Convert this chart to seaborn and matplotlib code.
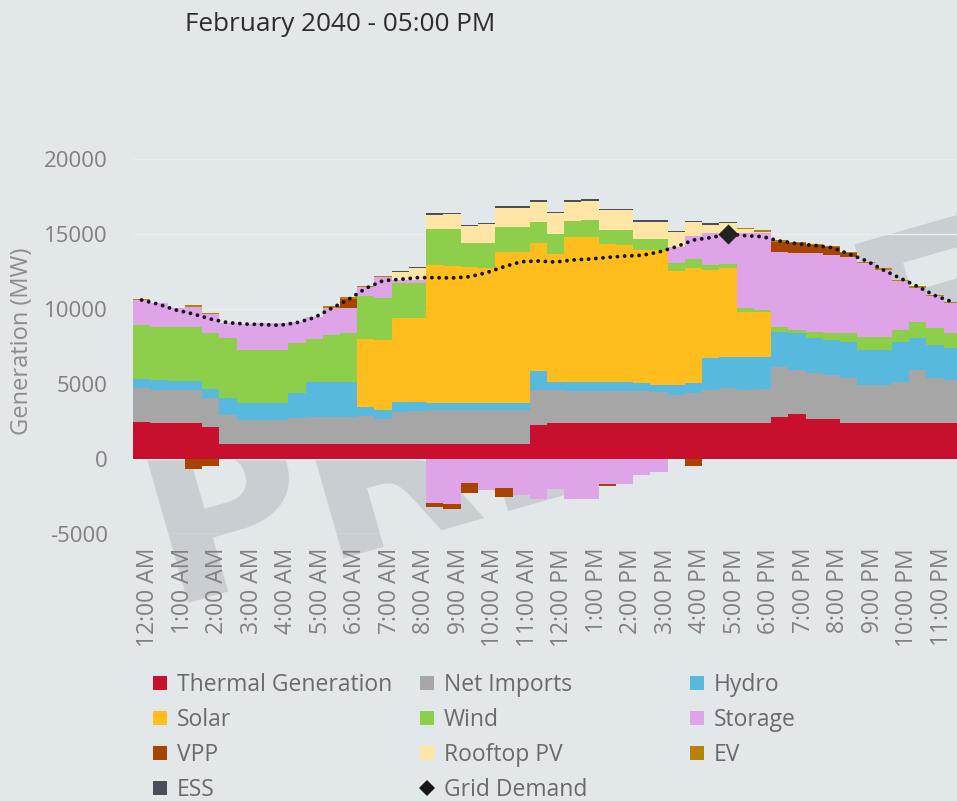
import numpy as np
import pandas as pd
import matplotlib
matplotlib.use("Agg")
import matplotlib.pyplot as plt
import matplotlib.transforms as mtransforms
from matplotlib.lines import Line2D
import seaborn as sns

# Half-hourly generation mix (MW) for a February 2040 day
hours = np.arange(0, 24, 0.5)
hour_labels = ["12:00 AM", "1:00 AM", "2:00 AM", "3:00 AM", "4:00 AM", "5:00 AM",
               "6:00 AM", "7:00 AM", "8:00 AM", "9:00 AM", "10:00 AM", "11:00 AM",
               "12:00 PM", "1:00 PM", "2:00 PM", "3:00 PM", "4:00 PM", "5:00 PM",
               "6:00 PM", "7:00 PM", "8:00 PM", "9:00 PM", "10:00 PM", "11:00 PM"]

thermal = [2490, 2380, 2380, 2380, 2160, 1000, 1000, 1000, 1000, 1000, 1000, 1000,
           1000, 1000, 1000, 1000, 1000, 1000, 1000, 1000, 1000, 1000, 1000, 2270,
           2380, 2380, 2380, 2380, 2380, 2380, 2380, 2380, 2380, 2380, 2380, 2380,
           2380, 2820, 3000, 2640, 2640, 2380, 2380, 2380, 2380, 2380, 2380, 2380]
net_imports = [2220, 2220, 2220, 2220, 1890, 1930, 1600, 1600, 1600, 1710, 1820, 1820,
               1820, 1870, 1640, 2160, 2220, 2270, 2270, 2270, 2270, 2270, 2270, 2330,
               2220, 2180, 2180, 2180, 2180, 2180, 2110, 1890, 2000, 2220, 2330, 2220,
               2270, 3330, 2930, 3070, 2960, 3000, 2560, 2560, 2780, 3560, 3000, 2890]
hydro = [600, 670, 620, 620, 600, 1110, 1160, 1160, 1160, 1670, 2330, 2330,
         2330, 620, 620, 670, 600, 490, 440, 440, 440, 440, 440, 1270,
         560, 600, 600, 600, 600, 530, 440, 670, 670, 2110, 2110, 2180,
         2130, 2330, 2440, 2330, 2330, 2440, 2330, 2330, 2670, 2110, 2220, 2110]
solar = [0, 0, 0, 0, 0, 0, 0, 0, 0, 0, 0, 0,
         0, 4490, 4670, 5560, 5560, 9180, 9150, 9070, 9000, 10110, 10110, 8510,
         8490, 9620, 9620, 9180, 9110, 8840, 9000, 7620, 7710, 5890, 5890, 3040,
         3040, 0, 0, 0, 0, 0, 0, 0, 0, 0, 0, 0]
wind = [3620, 3560, 3560, 3600, 3780, 4000, 3510, 3510, 3510, 3330, 2840, 3110,
        3220, 2890, 2780, 2330, 2330, 2380, 2440, 1640, 1710, 1670, 1670, 1440,
        1360, 1110, 1160, 930, 1000, 710, 710, 490, 560, 330, 290, 220,
        110, 290, 220, 440, 440, 560, 890, 890, 780, 1110, 1110, 1000]
storage = [1670, 1560, 1270, 1330, 1220, 1040, 1730, 1780, 1790, 1440, 1490, 1820,
           1710, 580, 1400, 220, 220, -2960, -3000, -1620, -2070, -1960, -2400, -2690,
           -2020, -2690, -2690, -1690, -1690, -1070, -890, 1110, 1560, 2110, 1980, 5000,
           5110, 5040, 5160, 5220, 5220, 5110, 4890, 4440, 3270, 2270, 2160, 2000]
vpp = [0, 0, 0, -700, -450, 0, 0, 0, 0, 0, 0, 0,
       560, 0, 0, 0, 0, -220, -360, -670, 0, -600, 0, 0,
       0, 0, 0, -100, 0, 0, 0, 0, -450, 0, 0, 0,
       0, 670, 620, 560, 510, 270, 0, 0, 0, 0, 0, 0]
rooftop_pv = [0, 0, 0, 0, 0, 0, 0, 0, 0, 0, 0, 0,
              0, 0, 0, 510, 780, 960, 1020, 1110, 1220, 1270, 1270, 1330,
              1380, 1270, 1290, 1330, 1330, 1180, 1180, 960, 890, 580, 730, 270,
              110, 0, 0, 0, 0, 0, 0, 0, 0, 0, 0, 0]
ev = [90, 0, 0, 110, 100, 0, 0, 0, 0, 0, 0, 100,
      130, 80, 90, 0, 0, 0, 0, 0, 0, 0, 0, 0,
      0, 0, 0, 0, 0, 0, 0, 0, 0, 0, 0, 100,
      100, 110, 110, 70, 70, 70, 100, 100, 70, 70, 70, 100]
ess = [0, 0, 0, 0, 0, 0, 0, 0, 0, 0, 0, 0,
       0, 0, 0, 70, 100, 90, 90, 90, 90, 90, 90, 90,
       90, 90, 90, 90, 90, 90, 90, 90, 90, 90, 90, 0,
       0, 0, 0, 0, 0, 0, 0, 0, 0, 0, 0, 0]
grid_demand = [10600, 10310, 9930, 9670, 9330, 9090, 9000, 8960, 8910, 9090, 9420, 10040,
               10640, 11380, 11890, 11980, 12090, 12090, 12070, 12150, 12420, 12820, 13150, 13200,
               13130, 13270, 13330, 13440, 13530, 13580, 13800, 14150, 14600, 14760, 15000, 14890,
               14820, 14530, 14350, 14240, 14090, 13670, 13220, 12600, 12040, 11490, 10890, 10470]

series_names = ["Thermal Generation", "Net Imports", "Hydro", "Solar", "Wind",
                "Storage", "VPP", "Rooftop PV", "EV", "ESS"]
series_values = [thermal, net_imports, hydro, solar, wind, storage, vpp, rooftop_pv, ev, ess]
series_colors = ["#C8102E", "#A6A6A6", "#56B9DD", "#FFBE1E", "#8DCF4A",
                 "#DFA4E7", "#A84300", "#FFE5A6", "#B88200", "#4A4F5C"]

selected_time = 17.0
title = "February 2040 - 05:00 PM"

BG = "#E2E7EA"
TEXT_GREY = "#808080"

sns.set_theme(style="white", rc={"figure.facecolor": BG, "axes.facecolor": "none",
                                 "savefig.facecolor": BG})
plt.rcParams["font.family"] = ["Open Sans", "DejaVu Sans"]

W, H = 957, 801
fig = plt.figure(figsize=(W / 100, H / 100), dpi=100)
ax = fig.add_axes([133 / W, 1 - 534 / H, 828 / W, 375 / H])

# Watermark sits behind everything
fig.text(168 / W, 1 - 603 / H, "PREVIEW", rotation=16, rotation_mode="anchor",
         ha="left", va="baseline", fontsize=160, fontweight="bold",
         color="#C9CED3", family="DejaVu Sans", zorder=-5)

# Stacked step areas: positives grow upward, negatives downward
edges = np.append(hours - 0.25, hours[-1] + 0.25)
pos_base = np.zeros(len(hours))
neg_base = np.zeros(len(hours))
for name, vals, color in zip(series_names, series_values, series_colors):
    v = np.asarray(vals, dtype=float)
    p = np.clip(v, 0, None)
    n = np.clip(v, None, 0)
    if p.any():
        ax.stairs(pos_base + p, edges, baseline=pos_base.copy(), fill=True,
                  color=color, lw=0, antialiased=False, zorder=2)
    if n.any():
        ax.stairs(neg_base + n, edges, baseline=neg_base.copy(), fill=True,
                  color=color, lw=0, antialiased=False, zorder=2)
    pos_base += p
    neg_base += n

demand_df = pd.DataFrame({"hour": hours, "demand": grid_demand})
sns.lineplot(data=demand_df, x="hour", y="demand", ax=ax, color="#15151f",
             lw=2.8, linestyle=(0, (0.01, 1.85)), dash_capstyle="round",
             legend=False, zorder=4)
sel = demand_df[demand_df["hour"] == selected_time]
sns.scatterplot(data=sel, x="hour", y="demand", ax=ax, marker="D", s=105,
                color="#222222", linewidth=0, legend=False, zorder=5)

ax.set_xlim(-0.25, 23.75)
ax.set_ylim(-5000, 20000)
ax.set_xlabel("")
ax.set_ylabel("")
for s in ax.spines.values():
    s.set_visible(False)
ax.set_axisbelow(True)
ax.yaxis.grid(True, color="#EAEDEF", lw=1.0)
ax.xaxis.grid(False)

yt = [-5000, 0, 5000, 10000, 15000, 20000]
ax.set_yticks(yt)
ax.set_yticklabels([str(t) for t in yt])
ax.tick_params(axis="y", length=0, pad=18, labelsize=16, labelcolor=TEXT_GREY)
ax.set_xticks(np.arange(24))
ax.set_xticklabels(hour_labels, rotation=90)
ax.tick_params(axis="x", length=0, pad=10, labelsize=16.5, labelcolor=TEXT_GREY)
shift = mtransforms.ScaledTranslation(6.5 / 100, 0, fig.dpi_scale_trans)
for lbl in ax.get_xticklabels():
    lbl.set_transform(lbl.get_transform() + shift)

fig.text(185 / W, 1 - 31 / H, title, fontsize=18.8, color="#2d2d2d",
         ha="left", va="baseline")
fig.text(22 / W, 1 - 341 / H, "Generation (MW)", rotation=90, ha="center",
         va="center", fontsize=17, color="#8c8c8c")

# Legend laid out in three fixed-width columns, row by row
legend_items = [(n, c, "s") for n, c in zip(series_names, series_colors)]
legend_items.append(("Grid Demand", "#151515", "D"))
col_x = [160, 427, 697]
row_y = [683, 718, 753, 788]
for i, (name, color, mk) in enumerate(legend_items):
    r, c = divmod(i, 3)
    x, y = col_x[c], row_y[r]
    fig.add_artist(Line2D([x / W], [1 - y / H], transform=fig.transFigure,
                          marker=mk, ls="", markersize=10 if mk == "s" else 8,
                          color=color, markeredgewidth=0))
    fig.text((x + 17) / W, 1 - (y + 8) / H, name, fontsize=16.5, color="#6a6a6a",
             ha="left", va="baseline")

fig.savefig("out.png", dpi=100)
